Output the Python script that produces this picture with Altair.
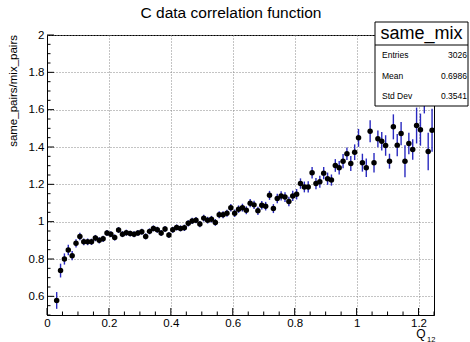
import altair as alt
import pandas as pd

# ---------------- data ----------------
# histogram bins: 100 bins of width 0.0125 on [0, 1.25]; bins 0 and 1 are empty
bin_width = 0.0125
first_bin, last_bin = 2, 99
q12 = [round(bin_width * (i + 0.5), 5) for i in range(first_bin, last_bin + 1)]

ratio = [
    0.578, 0.738, 0.800, 0.848, 0.818, 0.884, 0.921, 0.892, 0.892, 0.892,
    0.912, 0.900, 0.908, 0.939, 0.933, 0.915, 0.955, 0.933, 0.941, 0.936,
    0.933, 0.939, 0.946, 0.921, 0.948, 0.964, 0.957, 0.939, 0.961, 0.929,
    0.957, 0.969, 0.964, 0.967, 0.991, 1.004, 1.008, 0.987, 1.019, 1.008,
    1.013, 0.996, 1.037, 1.037, 1.045, 1.075, 1.045, 1.067, 1.075, 1.061,
    1.099, 1.090, 1.058, 1.088, 1.083, 1.141, 1.070, 1.124, 1.138, 1.132,
    1.108, 1.138, 1.147, 1.204, 1.186, 1.186, 1.262, 1.204, 1.214, 1.260,
    1.230, 1.223, 1.301, 1.289, 1.324, 1.364, 1.312, 1.372, 1.449, 1.316,
    1.289, 1.484, 1.316, 1.444, 1.431, 1.408, 1.324, 1.508, 1.410, 1.472,
    1.324, 1.419, 1.387, 1.515, 1.493, 1.680, 1.376, 1.490,
]

ratio_err = [
    0.045, 0.037, 0.030, 0.028, 0.025, 0.022, 0.020, 0.018, 0.018, 0.017,
    0.017, 0.017, 0.017, 0.016, 0.016, 0.016, 0.016, 0.016, 0.016, 0.016,
    0.016, 0.016, 0.016, 0.016, 0.016, 0.016, 0.016, 0.016, 0.016, 0.016,
    0.016, 0.016, 0.016, 0.017, 0.017, 0.017, 0.017, 0.017, 0.018, 0.018,
    0.018, 0.018, 0.019, 0.019, 0.019, 0.020, 0.020, 0.020, 0.021, 0.021,
    0.022, 0.022, 0.022, 0.023, 0.023, 0.024, 0.024, 0.025, 0.025, 0.026,
    0.026, 0.027, 0.028, 0.028, 0.029, 0.030, 0.031, 0.030, 0.032, 0.033,
    0.033, 0.030, 0.034, 0.036, 0.038, 0.033, 0.040, 0.042, 0.048, 0.048,
    0.050, 0.059, 0.052, 0.045, 0.050, 0.055, 0.040, 0.067, 0.060, 0.062,
    0.086, 0.058, 0.055, 0.096, 0.086, 0.100, 0.100, 0.115,
]

x_major = [0, 0.2, 0.4, 0.6, 0.8, 1.0, 1.2]
y_major = [0.6, 0.8, 1.0, 1.2, 1.4, 1.6, 1.8, 2.0]
x_minor = [0.05, 0.1, 0.15, 0.25, 0.3, 0.35, 0.45, 0.5, 0.55, 0.65, 0.7, 0.75,
           0.85, 0.9, 0.95, 1.05, 1.1, 1.15, 1.25]
y_minor = [0.5, 0.55, 0.65, 0.7, 0.75, 0.85, 0.9, 0.95, 1.05, 1.1, 1.15, 1.25,
           1.3, 1.35, 1.45, 1.5, 1.55, 1.65, 1.7, 1.75, 1.85, 1.9, 1.95]

stat_names = ["Entries", "Mean", "Std Dev"]
stat_values = ["3026", "0.6986", "0.3541"]

title_text = "C data correlation function"
y_title = "same_pairs/mix_pairs"
hist_name = "same_mix"

# ---------------- chart ----------------
F = "Liberation Sans"
W, H = 387, 280

df = pd.DataFrame({"q": q12, "r": ratio, "e": ratio_err})
df["lo"] = df["r"] - df["e"]
df["hi"] = df["r"] + df["e"]

xs = alt.Scale(domain=[0, 1.25], nice=False, zero=False)
ys = alt.Scale(domain=[0.5, 2.0], nice=False, zero=False)

xaxis = alt.Axis(values=x_major, format="~g", grid=True, gridDash=[1, 2],
                 gridColor="#888888", gridOpacity=1, ticks=False, labelFontSize=11.5,
                 labelFont=F, labelColor="black", labelPadding=2, labelFlush=False,
                 labelOverlap=False, domainColor="black", title=None)
yaxis = alt.Axis(values=y_major, format="~g", grid=True, gridDash=[1, 2],
                 gridColor="#888888", gridOpacity=1, ticks=False, labelFontSize=11.5,
                 labelFont=F, labelColor="black", labelPadding=3, labelFlush=False,
                 labelOverlap=False, domainColor="black", title=None)

errbars = alt.Chart(df).mark_rule(color="#2a2ac0", strokeWidth=1.4, clip=True).encode(
    x=alt.X("q:Q", scale=xs, axis=xaxis),
    y=alt.Y("lo:Q", scale=ys, axis=yaxis),
    y2="hi:Q",
)
points = alt.Chart(df).mark_point(filled=True, shape="circle", size=30, color="black",
                                  opacity=1, clip=True).encode(
    x=alt.X("q:Q", scale=xs, axis=xaxis),
    y=alt.Y("r:Q", scale=ys, axis=yaxis),
)


def xticks(vals, length):
    return alt.Chart(pd.DataFrame({"t": vals})).mark_rule(color="black", strokeWidth=1).encode(
        x=alt.X("t:Q", scale=xs, axis=xaxis), y=alt.value(H), y2=alt.value(H - length))


def yticks(vals, length):
    return alt.Chart(pd.DataFrame({"t": vals})).mark_rule(color="black", strokeWidth=1).encode(
        y=alt.Y("t:Q", scale=ys, axis=yaxis), x=alt.value(0), x2=alt.value(length))


def txt(s, x, y, size, align="left", baseline="middle", angle=0):
    return alt.Chart(pd.DataFrame({"s": [s]})).mark_text(
        align=align, baseline=baseline, fontSize=size, font=F, color="black", angle=angle
    ).encode(x=alt.value(x), y=alt.value(y), text="s:N")


box = alt.Chart(pd.DataFrame({"a": [0]})).mark_rect(
    fill="white", stroke="black", strokeWidth=1).encode(
    x=alt.value(328), x2=alt.value(421), y=alt.value(-13), y2=alt.value(71))
sep = alt.Chart(pd.DataFrame({"a": [0]})).mark_rule(color="black", strokeWidth=1).encode(
    x=alt.value(328), x2=alt.value(421), y=alt.value(10))

layers = [errbars, points,
          xticks(x_major, 7), xticks(x_minor, 3.5),
          yticks(y_major, 7), yticks(y_minor, 3.5),
          box, sep,
          txt(hist_name, 374.5, -1.5, 18, align="center"),
          txt(title_text, 184, -17, 15.5, align="center", baseline="alphabetic"),
          txt(y_title, -33, 0, 11.5, align="right", angle=270),
          txt("Q", 378.5, 303, 12, align="right", baseline="alphabetic"),
          txt("12", 380, 306.5, 7.5, align="left", baseline="alphabetic")]
row_y = [20, 41, 61]
for name, val, yy in zip(stat_names, stat_values, row_y):
    layers.append(txt(name, 335, yy, 8.5))
    layers.append(txt(val, 420, yy, 8.5, align="right"))

chart = alt.layer(*layers).properties(
    width=W, height=H,
    autosize=alt.AutoSizeParams(type="none"),
    padding={"left": 47, "top": 35, "right": 36, "bottom": 27},
    background="white",
).configure_view(stroke="black", strokeWidth=1)

chart.save("out.html", embed_options={"renderer": "svg", "actions": False})
